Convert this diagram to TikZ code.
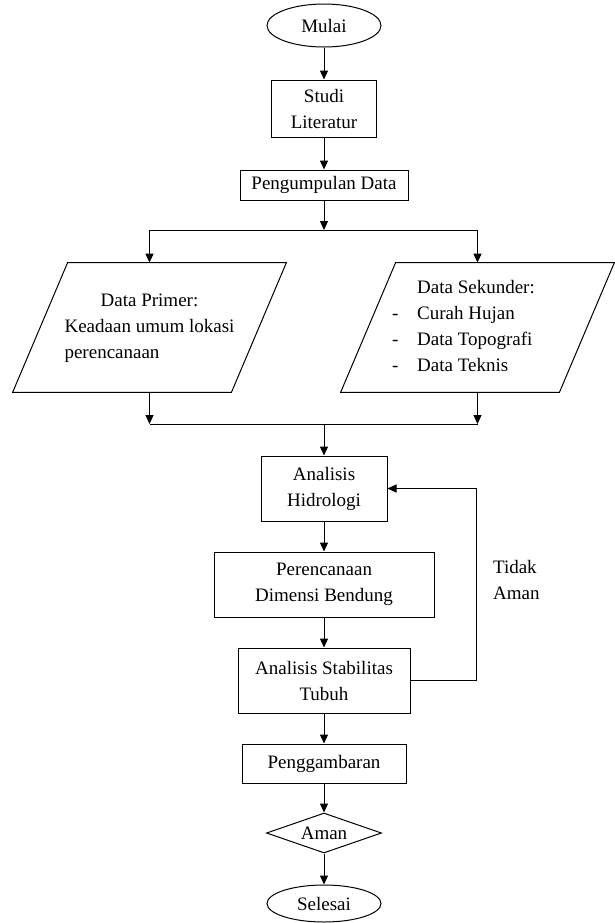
\documentclass[tikz,border=0pt]{standalone}
\usepackage{fontspec}
\setmainfont{Liberation Serif}
\usetikzlibrary{shapes.geometric,arrows.meta}

\begin{document}
\begin{tikzpicture}[
	x=0.5pt, y=-0.5pt,
	font=\fontsize{9.5}{13}\selectfont,
	flow node/.style = {draw, line width=0.5pt, inner sep=0pt, align=center},
	process/.style = {flow node, rectangle},
	terminal/.style = {flow node, ellipse, minimum width=57pt},
	data io/.style = {rectangle, inner sep=0pt, align=center, minimum width=109pt, minimum height=64.5pt},
	decision/.style = {flow node, diamond, shape aspect=2.9, minimum width=57.5pt, minimum height=20pt},
	edge/.style = {line width=0.5pt},
	arrow/.style = {edge, -{Triangle[length=4.5pt,width=4pt]}},
]

	%% Fix the page to the size of the reference
	\useasboundingbox (0,0) rectangle (615,923);

	%% The main column
	\node [terminal, minimum height=21.5pt] at (324,25.5) (mulai) {Mulai};
	\node [process, minimum width=52.5pt, minimum height=28.5pt] at (324,108.5) (studi) {Studi\\Literatur};
	\node [process, minimum width=84pt, minimum height=15pt] at (324,185) (kumpul) {Pengumpulan Data};

	%% The two data inputs
	\node [data io] at (149.5,327.5) (primer) {%
		\begin{tabular}{@{}l@{}}
			\multicolumn{1}{@{}c@{}}{Data Primer:}\\
			Keadaan umum lokasi\\
			perencanaan
		\end{tabular}};
	\node [data io] at (477.5,327.5) (sekunder) {%
		\begin{tabular}{@{}l@{}l@{\hspace{14pt}}}
			& Data Sekunder:\\
			\makebox[12.5pt][l]{-} & Curah Hujan\\
			- & Data Topografi\\
			- & Data Teknis
		\end{tabular}};

	%% Slanted outline of the data inputs
	\foreach \d in {primer, sekunder}{%
		\draw [edge] ([xshift=-13.75pt]\d.south west) -- ([xshift=-13.75pt]\d.south east)
			-- ([xshift=13.75pt]\d.north east) -- ([xshift=13.75pt]\d.north west) -- cycle;
	}

	%% Analysis and design
	\node [process, minimum width=63pt, minimum height=32.5pt] at (324,488.5) (hidrologi) {Analisis\\Hidrologi};
	\node [process, minimum width=110pt, minimum height=32.5pt] at (324,584.5) (dimensi) {Perencanaan\\Dimensi Bendung};
	\node [process, minimum width=86pt, minimum height=32.5pt] at (324,680.5) (stabilitas) {Analisis Stabilitas\\Tubuh};
	\node [process, minimum width=82pt, minimum height=19.5pt] at (324,763.5) (gambar) {Penggambaran};
	\node [decision] at (324,833) (aman) {Aman};
	\node [terminal, minimum height=18.5pt] at (324,903.5) (selesai) {Selesai};

	%% Split and merge points
	\coordinate (split) at (324,230);
	\coordinate (merge) at (324,424);
	\coordinate (balik) at (476,0);

	%% Straight connections
	\foreach \u/\v in {mulai/studi, studi/kumpul, hidrologi/dimensi, dimensi/stabilitas,
		stabilitas/gambar, gambar/aman, aman/selesai}{%
		\draw [arrow] (\u) -- (\v);
	}

	%% Into and out of the data inputs
	\draw [arrow] (kumpul) -- (split);
	\draw [edge] (primer.north |- split) -- (sekunder.north |- split);
	\draw [edge] (primer.south |- merge) -- (sekunder.south |- merge);
	\foreach \d in {primer, sekunder}{%
		\draw [arrow] (\d.north |- split) -- (\d.north);
		\draw [arrow] (\d.south) -- (\d.south |- merge);
	}
	\draw [arrow] (merge) -- (hidrologi);

	%% Back to the hydrology when not safe
	\draw [arrow] (stabilitas.east) -| (balik |- hidrologi.east) -- (hidrologi.east);
	\node [align=left, anchor=west] at (486,580) (tidak) {Tidak\\Aman};

\end{tikzpicture}
\end{document}
